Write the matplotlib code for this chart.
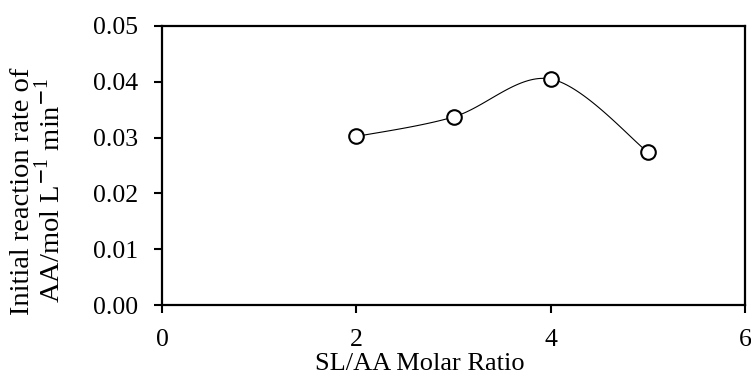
import numpy as np
import matplotlib
matplotlib.use("Agg")
import matplotlib.pyplot as plt

ratio = [2, 3, 4, 5]
rate = [0.0302, 0.0337, 0.0405, 0.0274]
xticks = [0, 2, 4, 6]
yticks = [0.00, 0.01, 0.02, 0.03, 0.04, 0.05]

plt.rcParams['font.family'] = ['Liberation Serif', 'DejaVu Serif']
plt.rcParams['mathtext.fontset'] = 'custom'
plt.rcParams['mathtext.rm'] = 'Liberation Serif'

def smooth(xs, ys, n=40):
    # Excel-like smoothed line (Catmull-Rom style Bezier)
    P = np.column_stack([xs, ys]).astype(float)
    ext = np.vstack([P[0], P, P[-1]])
    out = []
    t = np.linspace(0, 1, n)[:, None]
    for i in range(1, len(ext) - 2):
        p0, p1, p2, p3 = ext[i - 1], ext[i], ext[i + 1], ext[i + 2]
        c1 = p1 + (p2 - p0) / 6
        c2 = p2 - (p3 - p1) / 6
        seg = ((1 - t) ** 3) * p1 + 3 * ((1 - t) ** 2) * t * c1 + 3 * (1 - t) * t ** 2 * c2 + t ** 3 * p2
        out.append(seg)
    c = np.vstack(out)
    return c[:, 0], c[:, 1]

fig = plt.figure(figsize=(7.51, 3.76), dpi=100)
ax = fig.add_axes([162/751, 1 - 305/376, (745-162)/751, (305-26)/376])

sx, sy = smooth(ratio, rate)
ax.plot(sx, sy, color='black', lw=0.8, zorder=2)
ax.plot(ratio, rate, linestyle='none', marker='o', ms=10.5, mfc='white', mec='black', mew=1.5, zorder=3)

ax.set_xlim(0, 6)
ax.set_ylim(0, 0.05)
ax.set_xticks(xticks)
ax.set_yticks(yticks)
ax.set_xticklabels([str(v) for v in xticks])
ax.set_yticklabels([f"{v:.2f}" for v in yticks])
ax.tick_params(direction='out', length=6, width=1.5, labelsize=18.5, pad=11)
for s in ax.spines.values():
    s.set_linewidth(1.6)

fig.text(420/751, 1 - 370/376, 'SL/AA Molar Ratio', fontsize=19, ha='center', va='baseline')
fig.text(38/751, 1 - 191/376, 'Initial reaction rate of\nAA/mol L$^{\\mathsf{-}1}$ min$^{\\mathsf{-}1}$', fontsize=20.5,
         rotation=90, ha='center', va='center', multialignment='center', linespacing=1.0)

fig.savefig('out.png', dpi=100)
